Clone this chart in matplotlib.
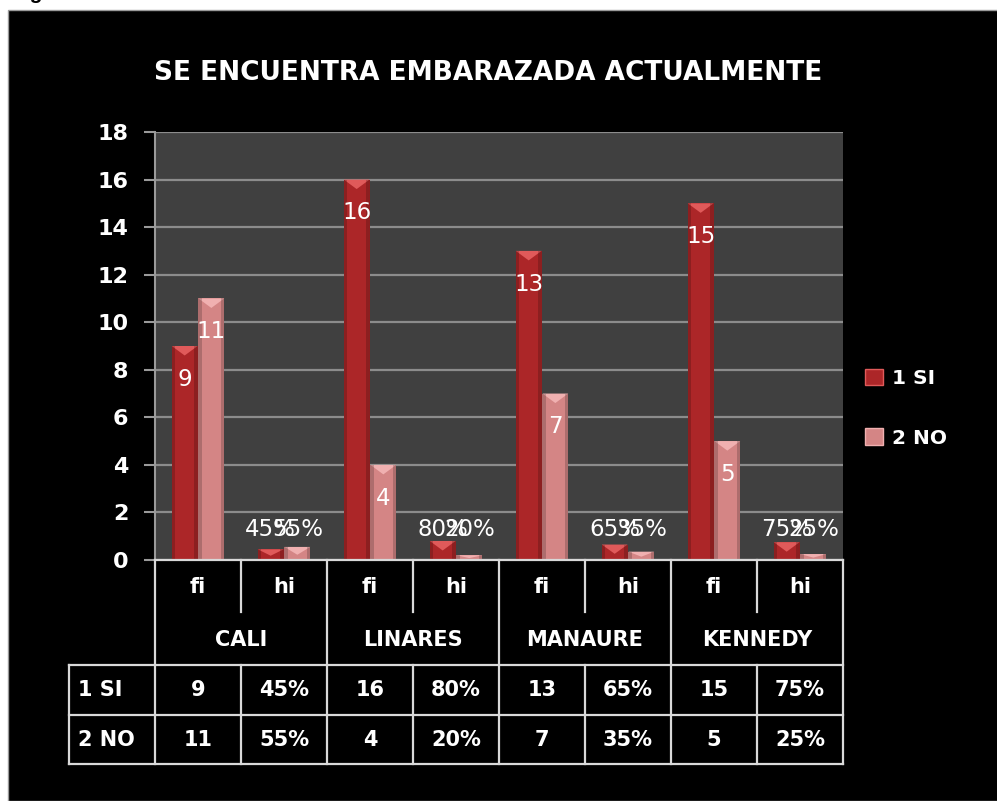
import matplotlib
matplotlib.use("Agg")
import matplotlib.pyplot as plt
from matplotlib.patches import Rectangle
import numpy as np

# datos del grafico
grupos = ["CALI", "LINARES", "MANAURE", "KENNEDY"]
columnas = ["fi", "hi"]
series = ["1 SI", "2 NO"]
si_fi = [9, 16, 13, 15]
no_fi = [11, 4, 7, 5]
si_hi = [0.45, 0.80, 0.65, 0.75]
no_hi = [0.55, 0.20, 0.35, 0.25]
y_ticks = [0, 2, 4, 6, 8, 10, 12, 14, 16, 18]

rojo = "#AC2628"
rojo_top = "#E05A5A"
rosa = "#D48585"
rosa_top = "#F0B0B0"
blanco = "#FFFFFF"
linea = "#D9D9D9"

fig = plt.figure(figsize=(9.97, 8.01), dpi=100)
fig.patch.set_facecolor("white")

# fondo negro del grafico
fig.patches.append(Rectangle((8 / 997, 0), 1, (801 - 10) / 801,
                             transform=fig.transFigure, facecolor="black",
                             edgecolor="#9a9a9a", lw=1.0, zorder=-10))
fig.text(0.012, 1 + 1 / 801, "Figura", fontsize=15, fontweight="bold",
         family="Liberation Sans", color="black", va="baseline")

ax = fig.add_axes([155 / 997, (801 - 560) / 801, 688 / 997, 428 / 801])
ax.set_facecolor("#404040")

# valores por categoria (fi, hi, fi, hi, ...)
v_si = []
v_no = []
for i in range(len(grupos)):
    v_si += [si_fi[i], si_hi[i]]
    v_no += [no_fi[i], no_hi[i]]
x = np.arange(len(v_si))
w = 0.30
off = 0.155

def barras(xs, vals, color, top):
    ax.bar(xs, vals, width=w, color=color, zorder=3, linewidth=0)
    for xi, v in zip(xs, vals):
        d = min(0.4, v * 0.6)
        ax.fill([xi - w / 2, xi + w / 2, xi], [v, v, v - d],
                color=top, zorder=4, lw=0)
        # bordes laterales oscuros (efecto 3D)
        ax.bar(xi - w / 2 + 0.02, v, width=0.04, color="black", alpha=0.18,
               zorder=4, linewidth=0)
        ax.bar(xi + w / 2 - 0.02, v, width=0.04, color="black", alpha=0.18,
               zorder=4, linewidth=0)

barras(x - off, v_si, rojo, rojo_top)
barras(x + off, v_no, rosa, rosa_top)

# etiquetas de datos
lbl = dict(color=blanco, fontsize=16.5, ha="center", va="center", zorder=6,
           family="DejaVu Sans")
for i in range(len(grupos)):
    ax.text(2 * i - off, si_fi[i] - 1.4, str(si_fi[i]), **lbl)
    ax.text(2 * i + off, no_fi[i] - 1.4, str(no_fi[i]), **lbl)
    ax.text(2 * i + 1 - off, 1.3, "{:.0%}".format(si_hi[i]), **lbl)
    ax.text(2 * i + 1 + off, 1.3, "{:.0%}".format(no_hi[i]), **lbl)

ax.set_xlim(-0.5, len(x) - 0.5)
ax.set_ylim(0, 18)
ax.set_yticks(y_ticks)
ax.set_yticklabels([str(t) for t in y_ticks], color=blanco, fontsize=16,
                   fontweight="bold", family="DejaVu Sans")
ax.set_xticks([])
ax.yaxis.grid(True, color="#8c8c8c", lw=1.6, zorder=1)
ax.set_axisbelow(True)
ax.tick_params(axis="y", colors="#9a9a9a", length=8, width=1.5, pad=11,
               labelcolor=blanco)
for s in ["top", "right", "bottom"]:
    ax.spines[s].set_visible(False)
ax.spines["left"].set_color("#9a9a9a")
ax.spines["left"].set_linewidth(1.5)

# tabla de datos debajo del eje
tr = ax.get_xaxis_transform()
y1 = -52 / 428
y2 = -105 / 428
y3 = -155 / 428
y4 = -204 / 428
lw_t = 1.6
kw = dict(transform=tr, clip_on=False, color=linea, lw=lw_t, zorder=5)
ax.plot([-0.5, 7.5], [0, 0], **kw)
for yy in [y2, y3, y4]:
    ax.plot([-1.5, 7.5], [yy, yy], **kw)
for g in range(len(grupos) + 1):
    ax.plot([2 * g - 0.5, 2 * g - 0.5], [0, y4], **kw)
for g in range(len(grupos)):
    ax.plot([2 * g + 0.5, 2 * g + 0.5], [0, y1], **kw)
    ax.plot([2 * g + 0.5, 2 * g + 0.5], [y2, y4], **kw)
ax.plot([-1.5, -1.5], [y2, y4], **kw)

tkw = dict(transform=tr, color=blanco, fontsize=15, fontweight="bold",
           ha="center", va="center", family="DejaVu Sans")
for g in range(len(grupos)):
    for j, c in enumerate(columnas):
        ax.text(2 * g + j, -27 / 428, c, **tkw)
    ax.text(2 * g + 0.5, -80 / 428, grupos[g], **tkw)
    ax.text(2 * g, -130 / 428, str(si_fi[g]), **tkw)
    ax.text(2 * g + 1, -130 / 428, "{:.0%}".format(si_hi[g]), **tkw)
    ax.text(2 * g, -180 / 428, str(no_fi[g]), **tkw)
    ax.text(2 * g + 1, -180 / 428, "{:.0%}".format(no_hi[g]), **tkw)
rkw = dict(tkw)
rkw["ha"] = "left"
ax.text(-1.5 + 0.1, -130 / 428, series[0], **rkw)
ax.text(-1.5 + 0.1, -180 / 428, series[1], **rkw)

# leyenda
h1 = Rectangle((0, 0), 1, 1, facecolor=rojo, edgecolor=rojo_top, lw=1)
h2 = Rectangle((0, 0), 1, 1, facecolor=rosa, edgecolor=rosa_top, lw=1)
leg = ax.legend([h1, h2], series, loc="center left",
                bbox_to_anchor=(1.005, 0.355), frameon=False,
                handlelength=0.9, handleheight=0.9, handletextpad=0.45,
                labelspacing=2.0,
                prop={"family": "DejaVu Sans", "weight": "bold", "size": 14.5})
for t in leg.get_texts():
    t.set_color(blanco)

# titulo
fig.text(488 / 997, (801 - 73) / 801, "SE ENCUENTRA EMBARAZADA ACTUALMENTE",
         color=blanco, fontsize=19, fontweight="bold", ha="center",
         va="center", family="DejaVu Sans")

fig.savefig("out.png", dpi=100, facecolor=fig.get_facecolor())
